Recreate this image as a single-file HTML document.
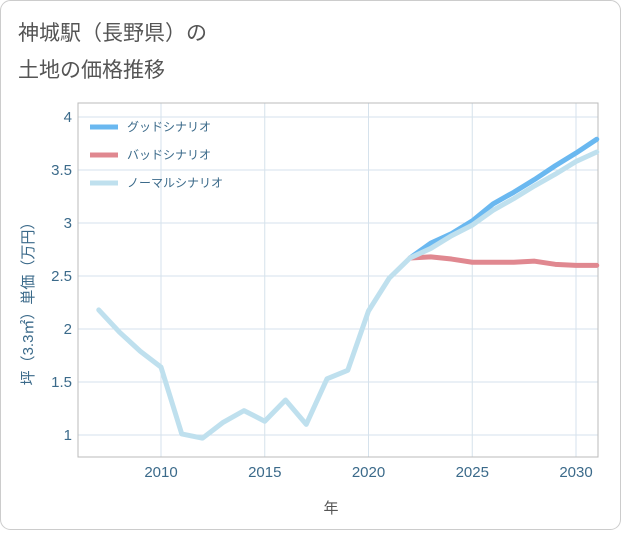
<!DOCTYPE html>
<html><head><meta charset="utf-8"><style>
body{margin:0;background:#fff;}
svg text{font-family:"Liberation Sans","Noto Sans CJK JP",sans-serif;}
</style></head><body>
<svg width="621" height="530" xmlns="http://www.w3.org/2000/svg">
<rect x="0.5" y="0.5" width="620" height="529" rx="10" fill="#fff" stroke="#ccc"/>
<text x="18" y="40" font-size="21" fill="#555">神城駅（長野県）の</text>
<text x="18" y="77" font-size="21" fill="#555">土地の価格推移</text>
<g id="grid"></g>
<rect x="78" y="103" width="520" height="354" fill="none" stroke="#bbb"/>
<g id="ticks"></g>
<g id="series"></g>
<text x="331" y="513" font-size="15" fill="#555" text-anchor="middle">年</text>
<text transform="translate(33,300) rotate(-90)" font-size="15" fill="#3b6a8a" text-anchor="middle">坪（3.3㎡）単価（万円）</text>
<g>
<line x1="90" y1="127" x2="118" y2="127" stroke="#6ab8f0" stroke-width="5"/>
<text x="127" y="131" font-size="12" fill="#3b6a8a">グッドシナリオ</text>
<line x1="90" y1="155" x2="118" y2="155" stroke="#e08890" stroke-width="5"/>
<text x="127" y="159" font-size="12" fill="#3b6a8a">バッドシナリオ</text>
<line x1="90" y1="183" x2="118" y2="183" stroke="#bfe0ee" stroke-width="5"/>
<text x="127" y="187" font-size="12" fill="#3b6a8a">ノーマルシナリオ</text>
</g>
</svg>
<script>
const normalYears=[2007,2008,2009,2010,2011,2012,2013,2014,2015,2016,2017,2018,2019,2020,2021,2022,2023,2024,2025,2026,2027,2028,2029,2030,2031];
const normalValues=[2.18,1.97,1.79,1.64,1.01,0.97,1.12,1.23,1.13,1.33,1.10,1.53,1.61,2.17,2.48,2.67,2.76,2.88,2.98,3.12,3.23,3.35,3.46,3.58,3.67];
const scenarioYears=[2022,2023,2024,2025,2026,2027,2028,2029,2030,2031];
const goodValues=[2.67,2.81,2.90,3.02,3.18,3.29,3.41,3.54,3.66,3.79];
const badValues=[2.67,2.68,2.66,2.63,2.63,2.63,2.64,2.61,2.60,2.60];
const xTicks=[2010,2015,2020,2025,2030];
const yTicks=[1,1.5,2,2.5,3,3.5,4];
const yTickLabels=["1","1.5","2","2.5","3","3.5","4"];
const NS="http://www.w3.org/2000/svg";
const xs=y=>161+(y-2010)*(576-161)/20;
const ys=v=>435-(v-1)*(435-117)/3;
const grid=document.getElementById('grid'),ticks=document.getElementById('ticks'),series=document.getElementById('series');
function mk(t,a){const e=document.createElementNS(NS,t);for(const k in a)e.setAttribute(k,a[k]);return e;}
xTicks.forEach(t=>{
 const l=mk('line',{x1:xs(t),x2:xs(t),y1:103,y2:457,stroke:'#d6e2ec'});
 
 
 grid.appendChild(l);
 const tx=mk('text',{x:xs(t),y:477,'font-size':15,fill:'#3b6a8a','text-anchor':'middle'});
 tx.textContent=t;
 
 
 ticks.appendChild(tx);
});
yTicks.forEach((t,i)=>{
 const l=mk('line',{x1:78,x2:598,y1:ys(t),y2:ys(t),stroke:'#d6e2ec'});
 
 
 grid.appendChild(l);
 const tx=mk('text',{x:72,y:ys(t)+5,'font-size':15,fill:'#3b6a8a','text-anchor':'end'});
 tx.textContent=yTickLabels[i];
 
 
 ticks.appendChild(tx);
});
function line(xa,va,color,name){
 const p=mk('polyline',{points:xa.map((x,i)=>xs(x)+','+ys(va[i])).join(' '),fill:'none',stroke:color,'stroke-width':5,'stroke-linejoin':'round','stroke-linecap':'round'});
 
 
 series.appendChild(p);
}
line(scenarioYears,goodValues,'#6ab8f0','good-scenario-line');
line(scenarioYears,badValues,'#e08890','bad-scenario-line');
line(normalYears,normalValues,'#bfe0ee','normal-scenario-line');
</script>
</body></html>
